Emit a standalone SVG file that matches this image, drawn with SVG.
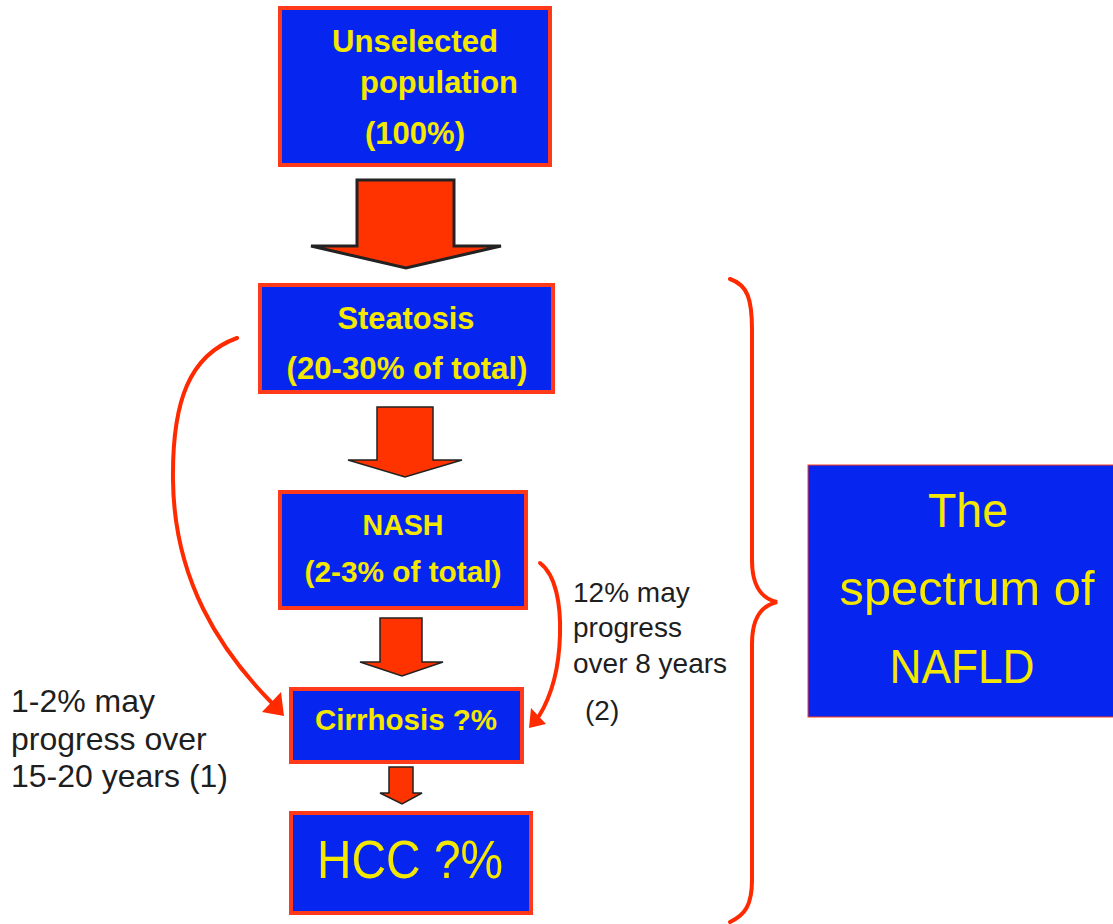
<svg xmlns="http://www.w3.org/2000/svg" width="1113" height="924" viewBox="0 0 1113 924">
<style>
.box{fill:#0626f0;stroke:#ff3a1a;stroke-width:4}
.bt{font-family:"Liberation Sans",Arial,sans-serif;font-weight:bold;fill:#f5e800;text-anchor:middle}
.rt{font-family:"Liberation Sans",Arial,sans-serif;fill:#f5e800;text-anchor:middle}
.blk{fill:#ff3300;stroke:#222;stroke-width:1.5;stroke-linejoin:miter}
.con{fill:none;stroke:#ff2a00;stroke-width:4;stroke-linecap:round}
.head{fill:#ff2a00}
.note{font-family:"Liberation Sans",Arial,sans-serif;fill:#1e1e1e}
</style>
<rect width="1113" height="924" fill="#ffffff"/>
<g id="unselected">
<rect class="box" x="280" y="8" width="270" height="157"/>
<text class="bt" x="415" y="52" font-size="32" textLength="166" lengthAdjust="spacingAndGlyphs">Unselected</text>
<text class="bt" x="439" y="93" font-size="32" textLength="158" lengthAdjust="spacingAndGlyphs">population</text>
<text class="bt" x="415" y="144" font-size="32" textLength="100" lengthAdjust="spacingAndGlyphs">(100%)</text>
</g>
<g id="steatosis">
<rect class="box" x="260" y="285" width="293" height="107"/>
<text class="bt" x="406" y="329" font-size="31" textLength="137" lengthAdjust="spacingAndGlyphs">Steatosis</text>
<text class="bt" x="407" y="379" font-size="31" textLength="241" lengthAdjust="spacingAndGlyphs">(20-30% of total)</text>
</g>
<g id="nash">
<rect class="box" x="280" y="492" width="246" height="116"/>
<text class="bt" x="403" y="535" font-size="30" textLength="81" lengthAdjust="spacingAndGlyphs">NASH</text>
<text class="bt" x="403" y="582" font-size="30" textLength="197" lengthAdjust="spacingAndGlyphs">(2-3% of total)</text>
</g>
<g id="cirrhosis">
<rect class="box" x="291" y="689" width="231" height="73"/>
<text class="bt" x="406" y="730" font-size="29" textLength="182" lengthAdjust="spacingAndGlyphs">Cirrhosis ?%</text>
</g>
<g id="hcc">
<rect class="box" x="291" y="813" width="240" height="100"/>
<text class="rt" x="410" y="878" font-size="53" textLength="186" lengthAdjust="spacingAndGlyphs">HCC ?%</text>
</g>
<g id="spectrum">
<rect x="808" y="465" width="307" height="252" fill="#0626f0" stroke="#ff3a1a" stroke-width="1"/>
<text class="rt" x="968" y="527" font-size="49" textLength="80" lengthAdjust="spacingAndGlyphs">The</text>
<text class="rt" x="967" y="605" font-size="49" textLength="255" lengthAdjust="spacingAndGlyphs">spectrum of</text>
<text class="rt" x="962" y="683" font-size="49" textLength="145" lengthAdjust="spacingAndGlyphs">NAFLD</text>
</g>
<g id="connectors">
<polygon class="blk" style="stroke-width:3" points="357,180 454,180 454,246 501,246 406,268 311,246 357,246"/>
<polygon class="blk" points="377,407 433,407 433,460 462,460 405,477 348,460 377,460"/>
<polygon class="blk" points="380,618 422,618 422,662 443,662 402,676 360,662 380,662"/>
<polygon class="blk" points="389,767 413,767 413,793 422,793 402,804 380,793 389,793"/>
<path class="con" d="M237,338 C190,355 172,400 173,480 C174,580 220,650 271,702"/>
<polygon class="head" points="284,716 262,712 281,692"/>
<path class="con" d="M540,563 C556,575 561,605 560,635 C559,670 552,695 539,716"/>
<polygon class="head" points="529,728 546,724 531,708"/>
<path class="con" d="M730,279 C748,285 752,300 752,330 L752,560 C752,585 760,598 777,602 C760,606 752,619 752,644 L752,880 C752,905 745,915 730,922"/>
</g>
<g id="notes">
<text class="note" x="11" y="712" font-size="32">1-2% may</text>
<text class="note" x="11" y="750" font-size="32">progress over</text>
<text class="note" x="11" y="787" font-size="32">15-20 years (1)</text>
<text class="note" x="573" y="602" font-size="28">12% may</text>
<text class="note" x="573" y="637" font-size="28">progress</text>
<text class="note" x="573" y="673" font-size="28">over 8 years</text>
<text class="note" x="585" y="720" font-size="28">(2)</text>
</g>
</svg>
